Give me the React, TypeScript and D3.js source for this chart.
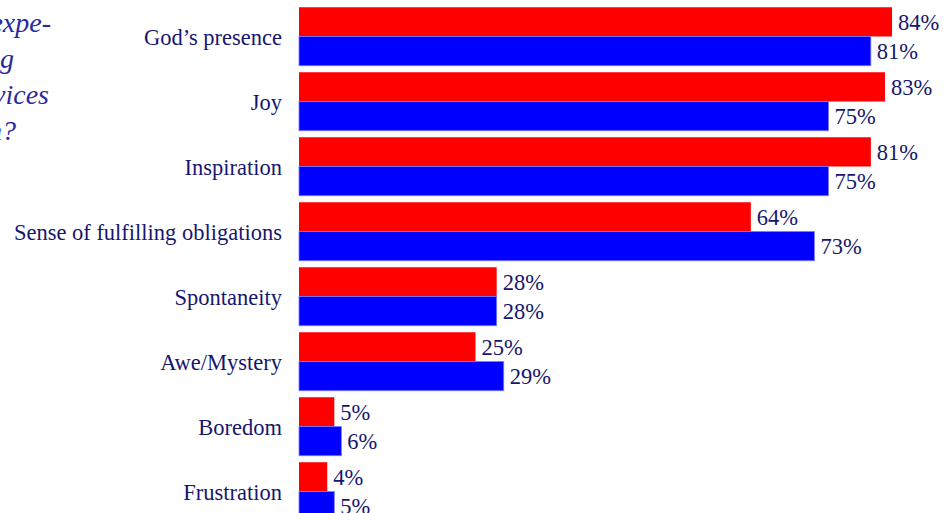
import React from "react";
import * as d3 from "d3";

const categories = [
  "God\u2019s presence",
  "Joy",
  "Inspiration",
  "Sense of fulfilling obligations",
  "Spontaneity",
  "Awe/Mystery",
  "Boredom",
  "Frustration",
];
const redValues = [84, 83, 81, 64, 28, 25, 5, 4];
const blueValues = [81, 75, 75, 73, 28, 29, 6, 5];
const titleLines = [
  "How often do you expe-",
  "rience the following",
  "during worship services",
  "in your congregation?",
];

const W = 947;
const H = 513;

export default function App() {
  const x = d3.scaleLinear().domain([0, 100]).range([299, 1005]);
  const y = d3
    .scaleBand<string>()
    .domain(categories)
    .range([4, 4 + 65 * categories.length])
    .paddingInner(0.1)
    .paddingOuter(0.05);
  const barH = y.bandwidth() / 2;
  const textColor = "#16166e";
  const font = "'Liberation Serif', 'Times New Roman', serif";
  const titleEnds = [51, 14, 49, 16];

  return (
    <svg
      width={W}
      height={H}
      style={{ position: "absolute", left: 0, top: 0, background: "#fff" }}
    >
      <g fontFamily={font} fontStyle="italic" fontSize={28} fill="#2a2aa0" textAnchor="end">
        {titleLines.map((t, i) => (
          <text key={i} x={titleEnds[i]} y={32 + i * 36}>
            {t}
          </text>
        ))}
      </g>
      {categories.map((c, i) => {
        const y0 = y(c)!;
        const mid = y0 + barH;
        return (
          <g key={c}>
            <rect
              x={x(0)}
              y={y0}
              width={x(redValues[i]) - x(0)}
              height={barH}
              fill="#ff0000"
            />
            <rect
              x={x(0)}
              y={mid}
              width={x(blueValues[i]) - x(0)}
              height={barH}
              fill="#0000ff"
              stroke="#7a7aff"
              strokeWidth={0.8}
            />
            <text
              x={282}
              y={mid + 8}
              textAnchor="end"
              fontFamily={font}
              fontSize={22.5}
              fill={textColor}
            >
              {c}
            </text>
            <text
              x={x(redValues[i]) + 6}
              y={y0 + barH / 2 + 8}
              fontFamily={font}
              fontSize={22.5}
              fill={textColor}
            >
              {redValues[i]}%
            </text>
            <text
              x={x(blueValues[i]) + 6}
              y={mid + barH / 2 + 8}
              fontFamily={font}
              fontSize={22.5}
              fill={textColor}
            >
              {blueValues[i]}%
            </text>
          </g>
        );
      })}
    </svg>
  );
}
